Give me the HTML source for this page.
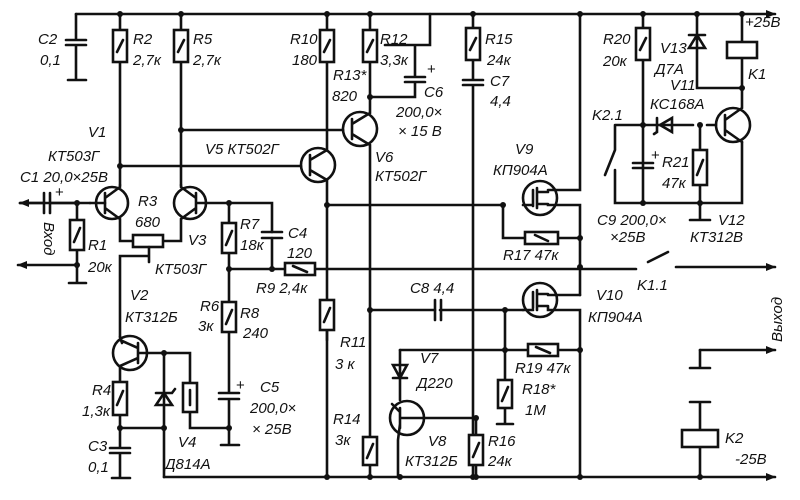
<!DOCTYPE html>
<html><head><meta charset="utf-8"><style>
html,body{margin:0;padding:0;background:#fff;}
svg{display:block;}
text{font-family:"Liberation Sans",sans-serif;font-style:italic;font-size:15px;fill:#111;}
</style></head><body>
<svg width="800" height="500" viewBox="0 0 800 500" xmlns="http://www.w3.org/2000/svg">
<defs>
<marker id="ar" markerWidth="10" markerHeight="8" refX="9" refY="4" orient="auto" markerUnits="userSpaceOnUse"><path d="M0,0 L10,4 L0,8 z" fill="#111"/></marker>
</defs>
<g stroke="#111" stroke-width="2.6" fill="none" stroke-linecap="round">
<line x1="76" y1="14" x2="775" y2="14" marker-end="url(#ar)"/>
<line x1="164" y1="477" x2="775" y2="477" marker-end="url(#ar)"/>
<path d="M76 14V40M66 40H86M66 45H86M76 45V80M68 80H86"/>
<path d="M120 14V30M120 62V185M181 14V30M181 62V185"/>
<rect x="113" y="30" width="14" height="32" fill="#fff"/><line x1="117" y1="52" x2="123" y2="40"/>
<rect x="174" y="30" width="14" height="32" fill="#fff"/><line x1="178" y1="52" x2="184" y2="40"/>
<circle cx="112" cy="203" r="16"/><circle cx="190" cy="203" r="16"/>
<path d="M105 193V213M105 198L120 187V185M105 208L120 219V241H133M163 241H181V219L196 208M196 198L181 187V185M196 193V213M196 203H272V232"/>
<path d="M90 203H105"/>
<rect x="133" y="235" width="30" height="12" fill="#fff"/>
<path d="M149 247V262M149 256H120V337"/>
<path d="M20 203H44M44 193V213M50 193V213M50 203H90"/>
<line x1="77" y1="203" x2="20" y2="203" marker-end="url(#ar)"/>
<path d="M77 203V220M77 250V283M69 283H86"/>
<rect x="70" y="220" width="14" height="30" fill="#fff"/><line x1="74" y1="242" x2="80" y2="228"/>
<line x1="77" y1="265" x2="18" y2="265" marker-end="url(#ar)"/>
<path d="M120 166H301M181 130H343"/>
<circle cx="318" cy="165" r="17"/><circle cx="360" cy="129" r="17"/>
<path d="M310 155V175M310 160L327 150V62M310 170L327 180V340M352 119V139M352 124L370 113V62M352 134L370 145V437"/>
<path d="M327 14V30M370 14V30"/>
<rect x="320" y="30" width="14" height="32" fill="#fff"/><line x1="324" y1="52" x2="330" y2="40"/>
<rect x="363" y="30" width="14" height="32" fill="#fff"/><line x1="367" y1="52" x2="373" y2="40"/>
<path d="M430 14V45H385M370 97H415V82M405 82H425M405 77H425M415 77V45"/>
<path d="M327 205H503M327 300V477"/>
<rect x="320" y="300" width="14" height="30" fill="#fff"/><line x1="324" y1="322" x2="330" y2="308"/>
<path d="M229 203V223M229 253V302M272 238V269M229 269H285M315 269H636M648 262L668 252"/>
<line x1="676" y1="267" x2="775" y2="267" marker-end="url(#ar)"/>
<path d="M262 232H282M262 238H282"/>
<rect x="222" y="223" width="14" height="30" fill="#fff"/><line x1="226" y1="245" x2="232" y2="231"/>
<rect x="285" y="263" width="30" height="12" fill="#fff"/><line x1="293" y1="266" x2="307" y2="272"/>
<path d="M229 332V393M219 393H239M219 399H239M229 399V445M221 445H239"/>
<rect x="222" y="302" width="14" height="30" fill="#fff"/><line x1="226" y1="324" x2="232" y2="310"/>
<circle cx="130" cy="353" r="17"/>
<path d="M120 337L122 343M138 343V363M138 348L120 340M138 358L120 366V382M138 353H190V383M190 412V428H229M164 353V428M120 415V448M110 448H130M110 453H130M120 453V478M112 478H130M120 428H164M164 428V477"/>
<rect x="113" y="382" width="14" height="33" fill="#fff"/><line x1="117" y1="405" x2="123" y2="391"/>
<rect x="183" y="383" width="14" height="29" fill="#fff"/><line x1="190" y1="390" x2="190" y2="405"/>
<path d="M156 405H172L164 393Z M156 393H172 L175 389"/>
<path d="M370 437V477M370 310H435M440 310H523"/>
<path d="M435 300V320M441 300V320"/>
<rect x="363" y="437" width="14" height="28" fill="#fff"/><line x1="367" y1="458" x2="373" y2="444"/>
<path d="M473 14V28M473 60V80M463 80H483M463 85H483M473 85V477"/>
<rect x="466" y="28" width="14" height="32" fill="#fff"/><line x1="470" y1="50" x2="476" y2="38"/>
<circle cx="540" cy="198" r="17"/>
<path d="M580 14V190H548M533 190V206M537 188V208M537 192H548M537 204H548M548 204V205H580V238M503 205V238H525M558 238H580V295M533 205H523"/>
<rect x="525" y="232" width="33" height="12" fill="#fff"/><line x1="535" y1="235" x2="548" y2="241"/>
<circle cx="540" cy="300" r="17"/>
<path d="M580 295H548M533 292V308M537 290V310M537 294H548M537 306H548M548 306V310H580V477M523 310H533M505 310V380M505 408V424M497 424H513M400 350H528M558 350H580"/>
<rect x="528" y="344" width="30" height="12" fill="#fff"/><line x1="536" y1="347" x2="550" y2="353"/>
<rect x="498" y="380" width="14" height="28" fill="#fff"/><line x1="502" y1="401" x2="508" y2="387"/>
<path d="M400 350V400M393 365H407L400 378ZM393 378H407"/>
<circle cx="407" cy="418" r="17"/>
<path d="M400 408V428M400 412L392 404M400 424L398 440V477M400 418H476M476 418V435M476 465V477"/>
<rect x="469" y="435" width="14" height="30" fill="#fff"/><line x1="473" y1="457" x2="479" y2="443"/>
<path d="M643 14V28M643 60V203M633 163H653M633 168H653M615 125H693M615 125V150L605 175M615 170V203H742V142M700 125V150M700 185V220M690 220H710M707 125H716"/>
<rect x="636" y="28" width="14" height="32" fill="#fff"/><line x1="640" y1="50" x2="646" y2="38"/>
<rect x="693" y="150" width="14" height="35" fill="#fff"/><line x1="697" y1="175" x2="703" y2="160"/>
<path d="M672 118V132L660 125Z M657 118V132L654 134"/>
<circle cx="733" cy="125" r="17"/>
<path d="M725 115V135M725 120L742 108V88M725 130L742 142"/>
<path d="M697 14V88H742M742 14V42M742 58V88M689 48H705L697 35ZM689 35H705"/>
<rect x="727" y="42" width="30" height="16" fill="#fff"/>
<path d="M700 350V368M690 368H710M690 402H710M700 402V430M700 447V477"/>
<line x1="700" y1="350" x2="775" y2="350" marker-end="url(#ar)"/>
<rect x="682" y="430" width="36" height="17" fill="#fff"/>
</g>
<g fill="#111">
<circle cx="120" cy="14" r="3"/><circle cx="181" cy="14" r="3"/><circle cx="327" cy="14" r="3"/><circle cx="370" cy="14" r="3"/><circle cx="473" cy="14" r="3"/><circle cx="580" cy="14" r="3"/><circle cx="643" cy="14" r="3"/><circle cx="697" cy="14" r="3"/><circle cx="742" cy="14" r="3"/>
<circle cx="120" cy="166" r="3"/><circle cx="181" cy="130" r="3"/><circle cx="370" cy="97" r="3"/><circle cx="327" cy="205" r="3"/>
<circle cx="77" cy="203" r="3"/><circle cx="77" cy="265" r="3"/><circle cx="229" cy="203" r="3"/><circle cx="229" cy="269" r="3"/><circle cx="272" cy="269" r="3"/>
<circle cx="164" cy="353" r="3"/><circle cx="120" cy="428" r="3"/><circle cx="164" cy="428" r="3"/><circle cx="229" cy="428" r="3"/>
<circle cx="327" cy="477" r="3"/><circle cx="370" cy="477" r="3"/><circle cx="370" cy="310" r="3"/><circle cx="473" cy="477" r="3"/><circle cx="580" cy="477" r="3"/>
<circle cx="503" cy="205" r="3"/><circle cx="580" cy="238" r="3"/><circle cx="580" cy="267" r="3"/><circle cx="505" cy="310" r="3"/><circle cx="505" cy="350" r="3"/><circle cx="580" cy="350" r="3"/><circle cx="476" cy="418" r="3"/><circle cx="476" cy="477" r="3"/><circle cx="400" cy="477" r="3"/>
<circle cx="643" cy="125" r="3"/><circle cx="700" cy="125" r="3"/><circle cx="643" cy="203" r="3"/><circle cx="700" cy="203" r="3"/><circle cx="742" cy="88" r="3"/><circle cx="700" cy="477" r="3"/>
</g>
<text x="38" y="44">C2</text><text x="40" y="65">0,1</text>
<text x="133" y="44">R2</text><text x="133" y="65">2,7к</text>
<text x="193" y="44">R5</text><text x="193" y="65">2,7к</text>
<text x="290" y="44">R10</text><text x="292" y="65">180</text>
<text x="380" y="44">R12</text><text x="380" y="65">3,3к</text>
<text x="333" y="80">R13*</text><text x="332" y="101">820</text>
<text x="424" y="97">C6</text><text x="396" y="117">200,0×</text><text x="398" y="136">× 15 В</text>
<text x="427" y="74" style="font-style:normal">+</text>
<text x="375" y="162">V6</text><text x="375" y="181">КТ502Г</text>
<text x="205" y="154">V5 КТ502Г</text>
<text x="88" y="137">V1</text><text x="48" y="161">КТ503Г</text><text x="20" y="182">C1 20,0×25В</text>
<text x="55" y="197" style="font-style:normal">+</text>
<text x="138" y="206">R3</text><text x="135" y="227">680</text>
<text x="188" y="245">V3</text><text x="155" y="274">КТ503Г</text>
<text x="88" y="250">R1</text><text x="88" y="272">20к</text>
<text x="240" y="229">R7</text><text x="240" y="250">18к</text>
<text x="288" y="238">C4</text><text x="287" y="258">120</text>
<text x="256" y="293">R9 2,4к</text>
<text x="240" y="318">R8</text><text x="243" y="338">240</text>
<text x="130" y="300">V2</text><text x="125" y="322">КТ312Б</text>
<text x="200" y="311">R6</text><text x="198" y="331">3к</text>
<text x="260" y="392">C5</text><text x="250" y="413">200,0×</text><text x="252" y="434">× 25В</text>
<text x="236" y="390" style="font-style:normal">+</text>
<text x="92" y="395">R4</text><text x="82" y="416">1,3к</text>
<text x="88" y="451">C3</text><text x="88" y="472">0,1</text>
<text x="178" y="447">V4</text><text x="165" y="469">Д814А</text>
<text x="340" y="347">R11</text><text x="335" y="369">3 к</text>
<text x="333" y="424">R14</text><text x="335" y="445">3к</text>
<text x="410" y="293">C8 4,4</text>
<text x="485" y="44">R15</text><text x="487" y="65">24к</text><text x="490" y="86">C7</text><text x="490" y="106">4,4</text>
<text x="515" y="154">V9</text><text x="493" y="175">КП904А</text>
<text x="503" y="260">R17 47к</text>
<text x="596" y="300">V10</text><text x="588" y="322">КП904А</text>
<text x="637" y="290">K1.1</text>
<text x="515" y="373">R19 47к</text>
<text x="522" y="394">R18*</text><text x="525" y="415">1М</text>
<text x="420" y="363">V7</text><text x="417" y="388">Д220</text>
<text x="428" y="446">V8</text><text x="405" y="466">КТ312Б</text>
<text x="488" y="446">R16</text><text x="488" y="466">24к</text>
<text x="603" y="44">R20</text><text x="603" y="66">20к</text>
<text x="660" y="53">V13</text><text x="655" y="74">Д7А</text>
<text x="670" y="90">V11</text><text x="650" y="109">КС168А</text>
<text x="745" y="27">+25В</text><text x="748" y="79">K1</text>
<text x="592" y="120">K2.1</text>
<text x="662" y="167">R21</text><text x="662" y="188">47к</text>
<text x="651" y="160" style="font-style:normal">+</text>
<text x="597" y="225">C9 200,0×</text><text x="610" y="242">×25В</text>
<text x="718" y="225">V12</text><text x="690" y="242">КТ312В</text>
<text x="725" y="443">K2</text><text x="735" y="464">-25В</text>
<text transform="translate(44,222) rotate(90)" style="font-size:15px">Вход</text>
<text transform="translate(782,342) rotate(-90)" style="font-size:15px">Выход</text>
</svg>
</body></html>
